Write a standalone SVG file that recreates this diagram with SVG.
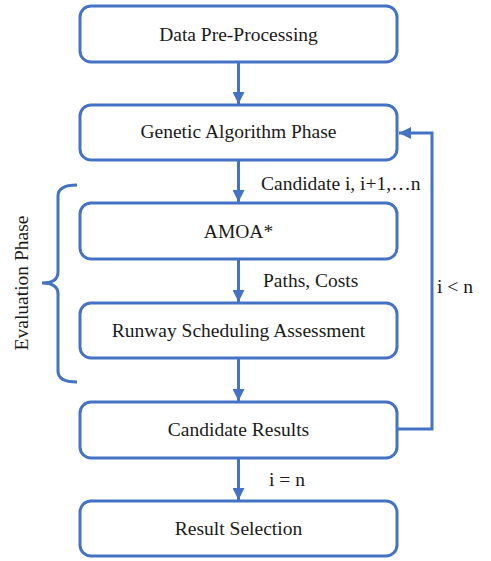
<svg xmlns="http://www.w3.org/2000/svg" width="491" height="561" viewBox="0 0 491 561">
<style>
.box{fill:#fff;stroke:#4472C4;stroke-width:3}
.ln{fill:none;stroke:#4472C4;stroke-width:3}
text{font-family:'Liberation Serif',serif;font-size:19.5px;fill:#1a1a1a}
.t{text-anchor:middle}
</style>
<defs>
<marker id="ah" viewBox="0 0 10 10" refX="10" refY="5" markerWidth="4" markerHeight="4" orient="auto" markerUnits="strokeWidth">
<path d="M0,0 L10,5 L0,10 z" fill="#4472C4"/>
</marker>
</defs>
<rect width="491" height="561" fill="#fff"/>
<g id="connectors">
<line class="ln" x1="238.5" y1="62" x2="238.5" y2="104" marker-end="url(#ah)"/>
<line class="ln" x1="238.5" y1="160" x2="238.5" y2="202" marker-end="url(#ah)"/>
<line class="ln" x1="238.5" y1="259" x2="238.5" y2="302" marker-end="url(#ah)"/>
<line class="ln" x1="238.5" y1="358" x2="238.5" y2="401" marker-end="url(#ah)"/>
<line class="ln" x1="238.5" y1="458" x2="238.5" y2="500" marker-end="url(#ah)"/>
<polyline class="ln" points="397,429 432,429 432,133 399,133" marker-end="url(#ah)"/>
<text x="261" y="190">Candidate i, i+1,…n</text>
<text x="263" y="287">Paths, Costs</text>
<text x="437" y="293">i &lt; n</text>
<text x="269" y="486">i = n</text>
</g>
<g id="evaluation-phase">
<path class="ln" d="M77,185 Q58,185 58,196 L58,272 Q58,283 42,283 Q58,283 58,294 L58,371 Q58,382 77,382"/>
<text class="t" transform="translate(28,283) rotate(-90)">Evaluation Phase</text>
</g>
<g id="data-preprocessing">
<rect class="box" x="80" y="6" width="317" height="56" rx="11"/>
<text class="t" x="238.5" y="41">Data Pre-Processing</text>
</g>
<g id="genetic-algorithm">
<rect class="box" x="80" y="105" width="317" height="55" rx="11"/>
<text class="t" x="238.5" y="138">Genetic Algorithm Phase</text>
</g>
<g id="amoa">
<rect class="box" x="80" y="203" width="317" height="56" rx="11"/>
<text class="t" x="238.5" y="238">AMOA*</text>
</g>
<g id="runway">
<rect class="box" x="80" y="303" width="317" height="55" rx="11"/>
<text class="t" x="238.5" y="337">Runway Scheduling Assessment</text>
</g>
<g id="candidate-results">
<rect class="box" x="80" y="402" width="317" height="56" rx="11"/>
<text class="t" x="238.5" y="436">Candidate Results</text>
</g>
<g id="result-selection">
<rect class="box" x="80" y="501" width="317" height="55" rx="11"/>
<text class="t" x="238.5" y="535">Result Selection</text>
</g>
</svg>
